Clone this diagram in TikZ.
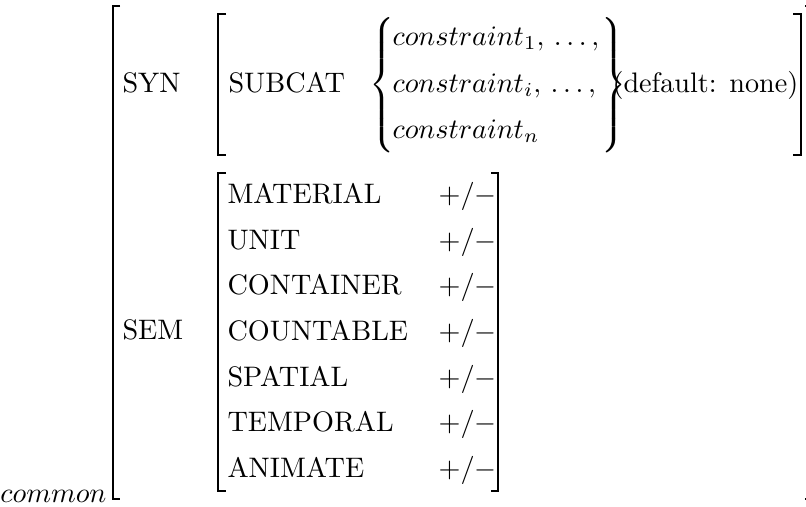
\documentclass[tikz,border=0pt]{standalone}
\usepackage{amsmath}
\usetikzlibrary{positioning}

\begin{document}
\begin{tikzpicture}[x=0.3546pt, y=-0.3546pt]
    \tikzset{feat/.style={anchor=base west, inner sep=0pt},
             delim/.style={anchor=west, inner sep=0pt},
             brak/.style={line width=0.5pt}}
    \useasboundingbox (0,0) rectangle (806,506);

    % outer matrix
    \node [feat, anchor=base east] (common) at (107,502) {$common$};
    \draw [brak] (120,6) -- (113,6) -- (113,499) -- (120,499);
    \draw [brak] (805,6) -- (813,6) -- (813,499) -- (805,499);
    \node [feat] (syn) at (122,92) {SYN};
    \node [feat] (sem) at (122,339) {SEM};

    % value of SYN
    \draw [brak] (226,14) -- (218,14) -- (218,155) -- (226,155);
    \draw [brak] (793,14) -- (801,14) -- (801,155) -- (793,155);
    \node [feat] (subcat) at (228,92) {SUBCAT};
    \node [delim] (lbrace) at (369,85.5) {$\left\{\vrule height 22pt depth 22pt width 0pt\right.$};
    \node [feat] (cons1) at (392,45) {$constraint_1,\,\ldots,$};
    \node [feat] (consi) at (392,92) {$constraint_i,\,\ldots,$};
    \node [feat] (consn) at (392,138) {$constraint_n$};
    \node [delim] (rbrace) at (598,85.5) {$\left.\vrule height 22pt depth 22pt width 0pt\right\}$};
    \node [feat] (default) at (612,92) {(default: none)};

    % value of SEM
    \draw [brak] (226,173) -- (218,173) -- (218,491) -- (226,491);
    \draw [brak] (491,173) -- (498,173) -- (498,491) -- (491,491);
    \node [feat] (material) at (227,203) {MATERIAL};
    \node [feat] (unit) at (227,249) {UNIT};
    \node [feat] (container) at (227,294) {CONTAINER};
    \node [feat] (countable) at (227,340) {COUNTABLE};
    \node [feat] (spatial) at (227,386) {SPATIAL};
    \node [feat] (temporal) at (227,431) {TEMPORAL};
    \node [feat] (animate) at (227,477) {ANIMATE};
    \node [feat] (material-v) at (438,203) {$+/-$};
    \node [feat] (unit-v) at (438,249) {$+/-$};
    \node [feat] (container-v) at (438,294) {$+/-$};
    \node [feat] (countable-v) at (438,340) {$+/-$};
    \node [feat] (spatial-v) at (438,386) {$+/-$};
    \node [feat] (temporal-v) at (438,431) {$+/-$};
    \node [feat] (animate-v) at (438,477) {$+/-$};
\end{tikzpicture}
\end{document}
